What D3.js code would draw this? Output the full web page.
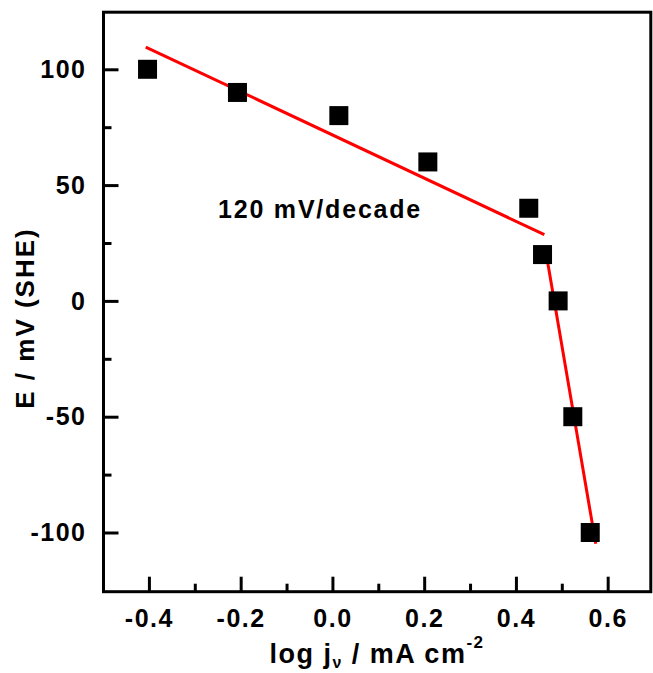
<!DOCTYPE html>
<html>
<head>
<meta charset="utf-8">
<script src="https://cdn.jsdelivr.net/npm/d3@7/dist/d3.min.js"></script>
<style>
  html, body { margin: 0; padding: 0; background: #fff; }
  svg { display: block; }
  text { font-family: "Liberation Sans", Arial, sans-serif; font-weight: bold; fill: #000; }
</style>
</head>
<body>
<svg id="chart" width="653" height="673"></svg>
<script>
// ---- data ----
const logJ = [-0.403, -0.207, 0.014, 0.208, 0.428, 0.458, 0.492, 0.524, 0.562];
const E    = [100, 90, 80, 60, 40, 20, 0, -50, -100];
const fit1 = [[-0.407, 109.6], [0.462, 28.6]];
const fit2 = [[0.465, 21.5], [0.574, -104.9]];
const xMajor = [-0.4, -0.2, 0.0, 0.2, 0.4, 0.6];
const xMinor = [-0.3, -0.1, 0.1, 0.3, 0.5];
const yMajor = [-100, -50, 0, 50, 100];
const yMinor = [-75, -25, 25, 75];
const annotation = "120 mV/decade";

// ---- layout ----
const svg = d3.select("#chart");
const x = d3.scaleLinear().domain([-0.499, 0.694]).range([103.5, 650.8]);
const y = d3.scaleLinear().domain([-125.56, 124.65]).range([591.7, 12.2]);
const fs = 25;

const g = svg.append("g");

// minor ticks
g.append("g").attr("transform", `translate(0,${y.range()[0]})`)
  .call(d3.axisBottom(x).tickValues(xMinor).tickSize(-8).tickFormat(""))
  .call(a => a.select(".domain").remove())
  .selectAll("line").attr("stroke", "#000").attr("stroke-width", 3);
g.append("g").attr("transform", `translate(${x.range()[0]},0)`)
  .call(d3.axisLeft(y).tickValues(yMinor).tickSize(-8).tickFormat(""))
  .call(a => a.select(".domain").remove())
  .selectAll("line").attr("stroke", "#000").attr("stroke-width", 3);

// major ticks
const xa = g.append("g").attr("transform", `translate(0,${y.range()[0]})`)
  .call(d3.axisBottom(x).tickValues(xMajor).tickSize(-15).tickPadding(35)
    .tickFormat(d3.format(".1f")));
xa.select(".domain").remove();
xa.selectAll("line").attr("stroke", "#000").attr("stroke-width", 3);
xa.selectAll("text").attr("font-size", fs).attr("dy", 0).attr("letter-spacing", 1.5)
  .style("font-family", "'Liberation Sans', Arial, sans-serif").style("font-weight", "bold")
  .text(d => d3.format(".1f")(d).replace("−", "-"));

const ya = g.append("g").attr("transform", `translate(${x.range()[0]},0)`)
  .call(d3.axisLeft(y).tickValues(yMajor).tickSize(-15).tickPadding(17)
    .tickFormat(d => String(d)));
ya.select(".domain").remove();
ya.selectAll("line").attr("stroke", "#000").attr("stroke-width", 3);
ya.selectAll("text").attr("font-size", fs).attr("dy", "0.33em").attr("letter-spacing", 1.5)
  .style("font-family", "'Liberation Sans', Arial, sans-serif").style("font-weight", "bold");

// frame
g.append("rect")
  .attr("x", x.range()[0]).attr("y", y.range()[1])
  .attr("width", x.range()[1] - x.range()[0])
  .attr("height", y.range()[0] - y.range()[1])
  .attr("fill", "none").attr("stroke", "#000").attr("stroke-width", 3);

// fit lines
const line = d3.line().x(d => x(d[0])).y(d => y(d[1]));
[fit1, fit2].forEach(f => {
  g.append("path").attr("d", line(f)).attr("fill", "none")
    .attr("stroke", "#ff0000").attr("stroke-width", 3);
});

// points
const sq = 19;
g.selectAll("rect.pt").data(logJ.map((v, i) => [v, E[i]])).enter()
  .append("rect").attr("class", "pt")
  .attr("x", d => x(d[0]) - sq / 2).attr("y", d => y(d[1]) - sq / 2)
  .attr("width", sq).attr("height", sq).attr("fill", "#000");

// annotation
g.append("text").attr("x", 218).attr("y", 218).attr("font-size", fs)
  .attr("letter-spacing", 1.8).text(annotation);

// y title
g.append("text")
  .attr("transform", "translate(33.5,318) rotate(-90)")
  .attr("text-anchor", "middle").attr("font-size", 26).attr("letter-spacing", 2)
  .text("E / mV (SHE)");

// x title
const xt = g.append("text").attr("x", 377).attr("y", 663)
  .attr("text-anchor", "middle").attr("font-size", 27).attr("letter-spacing", 1.5);
xt.append("tspan").text("log j");
xt.append("tspan").attr("font-size", 16).attr("dy", 5).text("ν");
xt.append("tspan").attr("dy", -5).text(" / mA cm");
xt.append("tspan").attr("font-size", 17).attr("dy", -15).text("-2");
</script>
</body>
</html>
